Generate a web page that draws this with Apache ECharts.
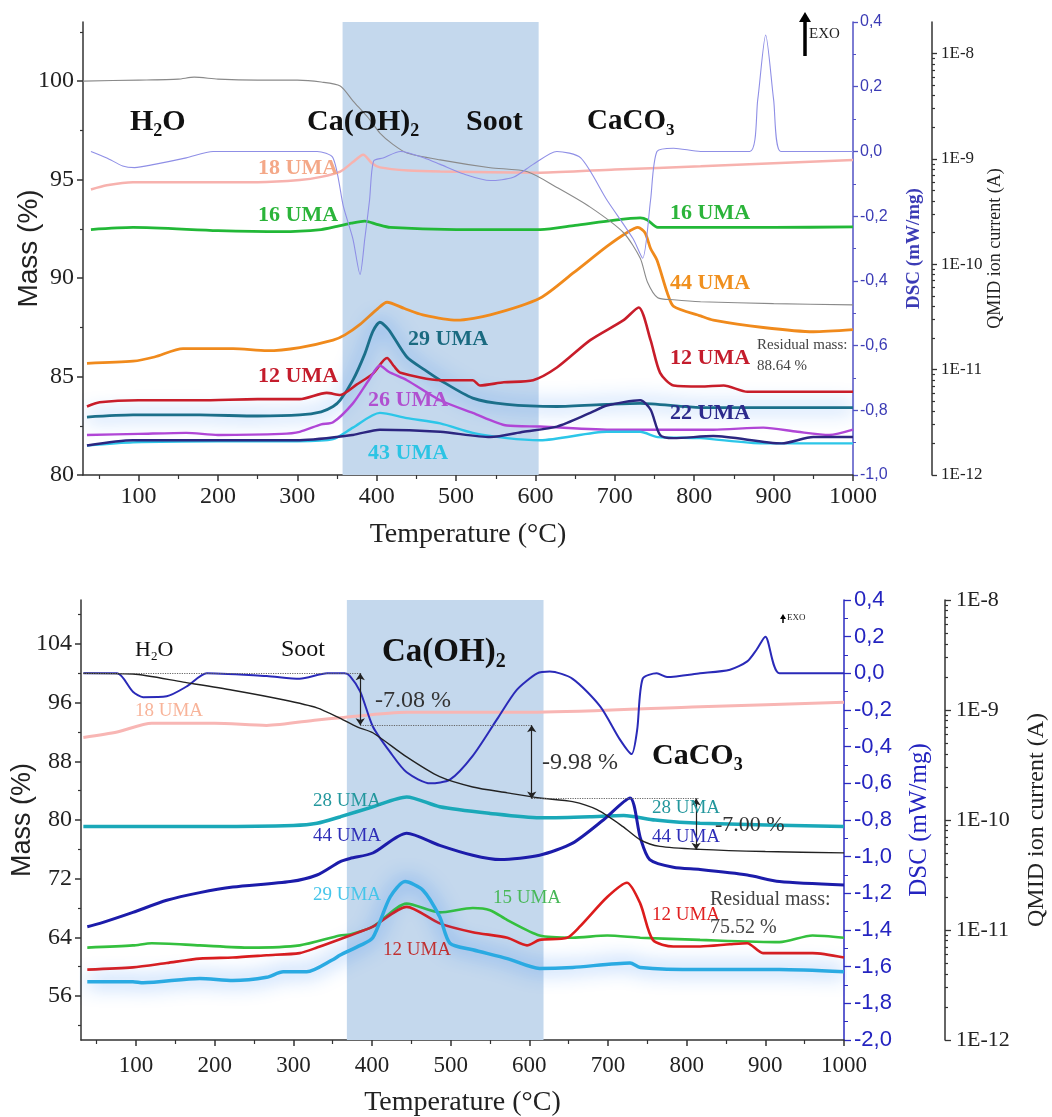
<!DOCTYPE html>
<html>
<head>
<meta charset="utf-8">
<script src="https://cdn.jsdelivr.net/npm/echarts@6/dist/echarts.min.js"></script>
<style>
html, body { margin: 0; padding: 0; background: #fff; }
#main { width: 1052px; height: 1117px; }
</style>
</head>
<body>
<div id="main"></div>
<script>
var SERIF = '"Liberation Serif", "DejaVu Serif", serif';
var SANS = '"Liberation Sans", Arial, sans-serif';

// ---- top panel (a) ----
var massTopT = [30, 100, 150, 170, 200, 250, 300, 330, 354, 370, 390, 404, 420, 438, 480, 543, 590, 627, 669, 711, 732, 741, 754, 774, 808, 900, 1000];
var massTop = [100.0, 100.05, 100.1, 100.2, 100.1, 100.05, 100.05, 99.95, 99.75, 99.0, 98.1, 97.36, 96.8, 96.35, 96.0, 95.6, 95.4, 94.6, 93.6, 92.3, 91.0, 89.8, 89.0, 88.9, 88.8, 88.7, 88.64];

var dscTopT = [40, 60, 80, 95, 120, 160, 194, 250, 300, 325, 345, 358, 370, 379, 385, 391, 396, 408, 430, 460, 480, 510, 543, 572, 597, 627, 657, 690, 723, 735, 745, 753, 774, 808, 870, 880, 890, 900, 909, 950, 1000];
var dscTop = [0.0, -0.02, -0.045, -0.05, -0.04, -0.02, 0.0, 0.0, 0.0, 0.0, -0.02, -0.17, -0.27, -0.38, -0.27, -0.15, -0.03, -0.02, 0.0, -0.02, -0.04, -0.07, -0.09, -0.08, -0.04, 0.0, -0.02, -0.15, -0.27, -0.33, -0.15, 0.0, 0.01, 0.0, 0.0, 0.16, 0.36, 0.16, 0.0, 0.0, 0.0];

// ion currents stored as log10(A)
var t18Top = [40, 60, 93, 150, 200, 250, 303, 330, 354, 370, 383, 394, 404, 440, 480, 606, 700, 808, 900, 1000];
var ion18Top = [-9.29, -9.25, -9.22, -9.22, -9.22, -9.22, -9.20, -9.17, -9.12, -9.03, -8.96, -9.04, -9.08, -9.11, -9.12, -9.13, -9.10, -9.07, -9.04, -9.01];

var t16Top = [40, 93, 200, 280, 330, 350, 368, 385, 400, 417, 500, 606, 650, 700, 732, 741, 754, 808, 900, 1000];
var ion16Top = [-9.67, -9.65, -9.68, -9.69, -9.67, -9.64, -9.61, -9.59, -9.62, -9.65, -9.67, -9.67, -9.63, -9.58, -9.56, -9.58, -9.65, -9.65, -9.65, -9.645];

var t44Top = [35, 93, 120, 156, 219, 262, 303, 345, 360, 379, 400, 413, 435, 458, 501, 543, 606, 648, 690, 715, 729, 738, 745, 753, 766, 774, 808, 824, 887, 950, 1000];
var ion44Top = [-10.94, -10.92, -10.88, -10.80, -10.80, -10.82, -10.79, -10.72, -10.67, -10.57, -10.43, -10.36, -10.42, -10.48, -10.53, -10.48, -10.32, -10.08, -9.83, -9.70, -9.65, -9.70, -9.85, -9.96, -10.27, -10.40, -10.49, -10.53, -10.60, -10.64, -10.62];

var t12Top = [35, 51, 100, 177, 250, 303, 337, 354, 375, 395, 413, 422, 430, 480, 521, 530, 560, 597, 627, 669, 711, 730, 745, 757, 774, 808, 837, 867, 930, 1000];
var ion12Top = [-11.35, -11.31, -11.29, -11.29, -11.28, -11.28, -11.22, -11.24, -11.14, -11.04, -10.89, -10.97, -11.03, -11.10, -11.10, -11.15, -11.12, -11.10, -10.98, -10.72, -10.53, -10.41, -10.72, -11.03, -11.15, -11.16, -11.15, -11.21, -11.21, -11.21];

var t29Top = [35, 93, 177, 250, 303, 330, 345, 354, 370, 385, 395, 404, 415, 438, 460, 480, 521, 564, 627, 690, 732, 808, 900, 1000];
var ion29Top = [-11.45, -11.43, -11.43, -11.44, -11.43, -11.40, -11.35, -11.29, -11.10, -10.85, -10.64, -10.55, -10.62, -10.88, -11.00, -11.10, -11.27, -11.33, -11.35, -11.33, -11.32, -11.36, -11.36, -11.36];

var t26Top = [35, 100, 160, 200, 280, 303, 330, 345, 370, 390, 404, 415, 438, 480, 521, 564, 606, 700, 774, 824, 887, 930, 970, 1000];
var ion26Top = [-11.62, -11.61, -11.60, -11.62, -11.61, -11.59, -11.52, -11.50, -11.32, -11.10, -10.96, -11.02, -11.10, -11.29, -11.41, -11.53, -11.54, -11.57, -11.57, -11.57, -11.55, -11.59, -11.62, -11.57];

var t22Top = [35, 93, 177, 303, 370, 404, 480, 543, 585, 627, 669, 690, 732, 745, 757, 774, 824, 910, 950, 1000];
var ion22Top = [-11.72, -11.67, -11.67, -11.67, -11.62, -11.57, -11.59, -11.64, -11.59, -11.54, -11.41, -11.34, -11.29, -11.38, -11.62, -11.65, -11.63, -11.70, -11.64, -11.64];

var t43Top = [35, 93, 200, 300, 345, 370, 404, 438, 480, 521, 564, 606, 690, 732, 754, 808, 887, 1000];
var ion43Top = [-11.72, -11.69, -11.68, -11.68, -11.66, -11.55, -11.41, -11.46, -11.51, -11.60, -11.65, -11.67, -11.59, -11.59, -11.64, -11.65, -11.70, -11.70];

// ---- bottom panel (b) ----
var massBotT = [33, 96, 160, 223, 287, 330, 359, 381, 401, 444, 486, 528, 572, 613, 655, 686, 719, 741, 766, 817, 900, 1000];
var massBot = [100.0, 99.9, 98.8, 97.7, 96.4, 95.3, 93.9, 92.7, 91.9, 88.6, 85.9, 84.5, 83.7, 83.0, 82.5, 81.4, 79.1, 77.3, 76.4, 76.0, 75.7, 75.52];

var dscBotT = [33, 76, 96, 109, 139, 165, 190, 266, 308, 343, 365, 372, 385, 401, 423, 444, 474, 499, 528, 559, 584, 610, 626, 655, 690, 715, 730, 737, 744, 762, 775, 817, 855, 877, 889, 900, 918, 1000];
var dscBot = [0.0, 0.0, -0.10, -0.13, -0.125, -0.07, 0.0, -0.015, -0.03, 0.0, 0.0, -0.015, -0.10, -0.29, -0.43, -0.54, -0.60, -0.58, -0.45, -0.25, -0.09, 0.0, 0.01, -0.03, -0.18, -0.36, -0.44, -0.31, -0.03, 0.0, -0.02, 0.0, 0.02, 0.065, 0.13, 0.20, 0.0, 0.0];

var t18Bot = [33, 76, 120, 200, 266, 330, 360, 444, 610, 817, 1000];
var ion18Bot = [-9.25, -9.20, -9.12, -9.12, -9.14, -9.09, -9.07, -9.02, -9.02, -8.97, -8.93];

var t28Bot = [33, 200, 300, 330, 360, 401, 444, 486, 550, 613, 677, 720, 760, 817, 1000];
var ion28Bot = [-10.06, -10.06, -10.05, -10.03, -9.97, -9.88, -9.79, -9.88, -9.94, -9.98, -9.97, -9.96, -10.0, -10.03, -10.06];

var t44Bot = [38, 54, 96, 139, 181, 223, 296, 330, 359, 372, 401, 444, 486, 528, 563, 613, 655, 694, 728, 741, 753, 783, 817, 877, 918, 1000];
var ion44Bot = [-10.97, -10.94, -10.84, -10.73, -10.66, -10.61, -10.56, -10.50, -10.38, -10.35, -10.30, -10.12, -10.23, -10.32, -10.36, -10.32, -10.21, -10.00, -9.80, -10.16, -10.36, -10.43, -10.45, -10.50, -10.56, -10.59];

var t15Bot = [38, 96, 120, 181, 245, 308, 359, 372, 401, 444, 486, 528, 550, 572, 613, 655, 699, 741, 817, 918, 960, 1000];
var ion15Bot = [-11.16, -11.14, -11.12, -11.14, -11.16, -11.14, -11.05, -11.04, -10.97, -10.76, -10.84, -10.80, -10.82, -10.91, -11.05, -11.07, -11.05, -11.07, -11.09, -11.11, -11.05, -11.07];

var t12Bot = [38, 96, 139, 181, 223, 266, 308, 330, 372, 401, 444, 486, 528, 572, 597, 613, 648, 664, 699, 724, 741, 757, 783, 817, 855, 877, 897, 960, 1000];
var ion12Bot = [-11.36, -11.34, -11.30, -11.26, -11.25, -11.23, -11.21, -11.16, -11.05, -10.97, -10.79, -10.94, -11.02, -11.07, -11.14, -11.09, -11.07, -10.97, -10.70, -10.57, -10.76, -11.09, -11.15, -11.15, -11.13, -11.12, -11.21, -11.21, -11.25];

var t29Bot = [38, 96, 109, 181, 223, 266, 287, 317, 350, 359, 385, 401, 423, 442, 465, 486, 499, 528, 572, 613, 655, 728, 741, 817, 918, 1000];
var ion29Bot = [-11.47, -11.47, -11.48, -11.44, -11.46, -11.43, -11.38, -11.38, -11.27, -11.23, -11.14, -11.07, -10.70, -10.56, -10.64, -10.88, -11.12, -11.18, -11.26, -11.35, -11.34, -11.30, -11.34, -11.36, -11.36, -11.38];

// mass loss steps (b)
var stepLevels = [100, 92.92, 82.94, 75.94];
var stepTemps = [385, 603, 812];

// ticks
var xMajor = [100, 200, 300, 400, 500, 600, 700, 800, 900, 1000];
var xMinor = [50, 150, 250, 350, 450, 550, 650, 750, 850, 950];
var massTopTicks = [80, 85, 90, 95, 100];
var massTopMinor = [82.5, 87.5, 92.5, 97.5, 102.5];
var massBotTicks = [56, 64, 72, 80, 88, 96, 104];
var massBotMinor = [52, 60, 68, 76, 84, 92, 100, 108];
var decades = [-12, -11, -10, -9, -8];

function pts(ts, vs) {
    return ts.map(function (t, i) { return [t, vs[i]]; });
}
var logMinor = [];
for (var k = -12; k < -8; k++) {
    for (var n = 2; n <= 9; n++) logMinor.push(k + Math.log10(n));
}
function comma(v) { return v.toFixed(1).replace('.', ','); }

var AX = '#333';

function xMain(g, fs, margin, gap) {
    return {
        type: 'value', gridIndex: g, position: 'bottom', min: 30, max: 1000,
        axisLine: { show: true, onZero: false, lineStyle: { color: AX, width: 1.5 } },
        axisTick: { show: true, customValues: xMajor, length: 6, lineStyle: { color: AX, width: 1.5 } },
        axisLabel: { customValues: xMajor, formatter: function (v) { return String(v); }, fontFamily: SERIF, fontSize: fs, color: '#222', margin: margin },
        splitLine: { show: false },
        name: 'Temperature (°C)', nameLocation: 'middle', nameGap: gap, nameMoveOverlap: false,
        nameTextStyle: { fontFamily: SERIF, fontSize: 28, color: '#222' }
    };
}
function xSub(g) {
    return {
        type: 'value', gridIndex: g, position: 'bottom', min: 30, max: 1000,
        axisLine: { show: false, onZero: false },
        axisTick: { show: true, customValues: xMinor, length: 4, lineStyle: { color: AX, width: 1.2 } },
        axisLabel: { show: false }, splitLine: { show: false }
    };
}
function ySub(g, pos, offset, min, max, vals, color) {
    return {
        type: 'value', gridIndex: g, position: pos, offset: offset, min: min, max: max,
        axisLine: { show: false, onZero: false },
        axisTick: { show: true, customValues: vals, length: 3, lineStyle: { color: color, width: 1.2 } },
        axisLabel: { show: false }, splitLine: { show: false }
    };
}

var xAxes = [xMain(0, 24, 10, 46), xSub(0), xMain(1, 23, 14, 49), xSub(1)];

var yAxes = [
    // 0 mass (a)
    {
        type: 'value', gridIndex: 0, position: 'left', min: 80, max: 103,
        axisLine: { show: true, onZero: false, lineStyle: { color: AX, width: 1.5 } },
        axisTick: { show: true, customValues: massTopTicks, length: 6, lineStyle: { color: AX, width: 1.5 } },
        axisLabel: { customValues: massTopTicks, fontFamily: SERIF, fontSize: 24, color: '#222', margin: 9 },
        splitLine: { show: false },
        name: 'Mass (%)', nameLocation: 'middle', nameGap: 40, nameMoveOverlap: false,
        nameTextStyle: { fontFamily: SANS, fontSize: 28, color: '#222' }
    },
    ySub(0, 'left', 0, 80, 103, massTopMinor, AX),
    // 2 DSC (a)
    {
        type: 'value', gridIndex: 0, position: 'right', min: -1, max: 0.4, interval: 0.2,
        axisLine: { show: true, onZero: false, lineStyle: { color: '#5252c4', width: 1.5 } },
        axisTick: { show: true, length: 5, lineStyle: { color: '#5252c4', width: 1.3 } },
        minorTick: { show: true, splitNumber: 2, length: 3, lineStyle: { color: '#5252c4' } },
        axisLabel: { formatter: comma, fontFamily: SANS, fontSize: 16, color: '#3b3bb5', margin: 7 },
        splitLine: { show: false },
        name: 'DSC (mW/mg)', nameLocation: 'middle', nameGap: 52, nameMoveOverlap: false,
        nameTextStyle: { fontFamily: SERIF, fontSize: 19, fontWeight: 'bold', color: '#3b3bb5' }
    },
    // 3 QMID (a)
    {
        type: 'value', gridIndex: 0, position: 'right', offset: 79, min: -12, max: -7.7,
        axisLine: { show: true, onZero: false, lineStyle: { color: AX, width: 1.5 } },
        axisTick: { show: true, customValues: decades, length: 5, lineStyle: { color: AX, width: 1.3 } },
        axisLabel: { customValues: decades, formatter: function (v) { return '1E' + v; }, fontFamily: SERIF, fontSize: 17, color: '#222', margin: 9 },
        splitLine: { show: false },
        name: 'QMID ion current (A)', nameLocation: 'middle', nameGap: 54, nameMoveOverlap: false,
        nameTextStyle: { fontFamily: SERIF, fontSize: 18, color: '#222' }
    },
    ySub(0, 'right', 79, -12, -7.7, logMinor.filter(function (v) { return v < -7.7; }), AX),
    // 5 mass (b)
    {
        type: 'value', gridIndex: 1, position: 'left', min: 50, max: 110,
        axisLine: { show: true, onZero: false, lineStyle: { color: AX, width: 1.5 } },
        axisTick: { show: true, customValues: massBotTicks, length: 6, lineStyle: { color: AX, width: 1.5 } },
        axisLabel: { customValues: massBotTicks, fontFamily: SERIF, fontSize: 24, color: '#222', margin: 9 },
        splitLine: { show: false },
        name: 'Mass (%)', nameLocation: 'middle', nameGap: 45, nameMoveOverlap: false,
        nameTextStyle: { fontFamily: SANS, fontSize: 27, color: '#222' }
    },
    ySub(1, 'left', 0, 50, 110, massBotMinor, AX),
    // 7 DSC (b)
    {
        type: 'value', gridIndex: 1, position: 'right', min: -2, max: 0.4, interval: 0.2,
        axisLine: { show: true, onZero: false, lineStyle: { color: '#2a2ac0', width: 1.5 } },
        axisTick: { show: true, length: 7, lineStyle: { color: '#2a2ac0', width: 1.3 } },
        minorTick: { show: true, splitNumber: 2, length: 4, lineStyle: { color: '#2a2ac0' } },
        axisLabel: { formatter: comma, fontFamily: SANS, fontSize: 22, color: '#2424c0', margin: 10 },
        splitLine: { show: false },
        name: 'DSC (mW/mg)', nameLocation: 'middle', nameGap: 63, nameMoveOverlap: false,
        nameTextStyle: { fontFamily: SERIF, fontSize: 25, color: '#2424c0' }
    },
    // 8 QMID (b)
    {
        type: 'value', gridIndex: 1, position: 'right', offset: 101, min: -12, max: -8,
        axisLine: { show: true, onZero: false, lineStyle: { color: AX, width: 1.5 } },
        axisTick: { show: true, customValues: decades, length: 6, lineStyle: { color: AX, width: 1.3 } },
        axisLabel: { customValues: decades, formatter: function (v) { return '1E' + v; }, fontFamily: SERIF, fontSize: 22, color: '#222', margin: 11 },
        splitLine: { show: false },
        name: 'QMID ion current (A)', nameLocation: 'middle', nameGap: 80, nameMoveOverlap: false,
        nameTextStyle: { fontFamily: SERIF, fontSize: 24, color: '#222' }
    },
    ySub(1, 'right', 101, -12, -8, logMinor, AX)
];

function line(xi, yi, ts, vs, color, width, z, glow) {
    var s = {
        type: 'line', xAxisIndex: xi, yAxisIndex: yi, data: pts(ts, vs),
        showSymbol: false, symbol: 'none', smooth: 0.25, silent: true,
        lineStyle: { color: color, width: width }, z: z || 3
    };
    if (glow) {
        s.lineStyle.shadowColor = glow;
        s.lineStyle.shadowBlur = 20;
    }
    return s;
}

var dotted = { type: 'dotted', color: '#666', width: 1.2 };
var arrowStyle = { type: 'solid', color: '#222', width: 1.2 };
var stepLines = [
    [{ coord: [33, stepLevels[0]], lineStyle: dotted }, { coord: [stepTemps[0], stepLevels[0]] }],
    [{ coord: [stepTemps[0], stepLevels[1]], lineStyle: dotted }, { coord: [stepTemps[1], stepLevels[1]] }],
    [{ coord: [stepTemps[1], stepLevels[2]], lineStyle: dotted }, { coord: [stepTemps[2] + 3, stepLevels[2]] }]
];
for (var i = 0; i < 3; i++) {
    stepLines.push([
        { coord: [stepTemps[i], stepLevels[i]], symbol: 'arrow', lineStyle: arrowStyle },
        { coord: [stepTemps[i], stepLevels[i + 1]], symbol: 'arrow' }
    ]);
}

var series = [
    // bands
    {
        type: 'line', xAxisIndex: 0, yAxisIndex: 0, data: [], z: 1, clip: false, silent: true,
        markArea: { silent: true, itemStyle: { color: '#c4d8ed' }, data: [[{ xAxis: 357, yAxis: 80 }, { xAxis: 604, yAxis: 103.55 }]] }
    },
    {
        type: 'line', xAxisIndex: 2, yAxisIndex: 5, data: [], z: 1, clip: false, silent: true,
        markArea: { silent: true, itemStyle: { color: '#c4d8ed' }, data: [[{ xAxis: 368, yAxis: 50 }, { xAxis: 618, yAxis: 110.95 }]] }
    },
    // top
    line(0, 3, t18Top, ion18Top, '#f7b2ae', 2.5),
    line(0, 3, t16Top, ion16Top, '#22b837', 2.8),
    line(0, 3, t44Top, ion44Top, '#f08a1c', 2.8),
    line(0, 3, t29Top, ion29Top, '#1b6f8a', 2.8, 3, 'rgba(30,120,240,1)'),
    line(0, 3, t12Top, ion12Top, '#c81d2a', 2.6),
    line(0, 3, t26Top, ion26Top, '#b046d6', 2.4),
    line(0, 3, t43Top, ion43Top, '#2cc6e8', 2.4),
    line(0, 3, t22Top, ion22Top, '#2c2680', 2.4),
    line(0, 0, massTopT, massTop, '#8a8a8a', 1.1, 4),
    line(0, 2, dscTopT, dscTop, '#8f8fe6', 1.1, 4),
    // bottom
    line(2, 8, t18Bot, ion18Bot, '#f8b6b4', 3),
    line(2, 8, t28Bot, ion28Bot, '#1aa8b8', 3.5),
    line(2, 8, t44Bot, ion44Bot, '#1c1caa', 3),
    line(2, 8, t15Bot, ion15Bot, '#34c03e', 2.6),
    line(2, 8, t12Bot, ion12Bot, '#dc1c1c', 2.6),
    line(2, 8, t29Bot, ion29Bot, '#2aaae2', 3.5, 3, 'rgba(30,120,240,1)'),
    line(2, 7, dscBotT, dscBot, '#2a2ab8', 2, 4),
    (function () {
        var s = line(2, 5, massBotT, massBot, '#222', 1.4, 4);
        s.markLine = {
            silent: true, symbol: ['none', 'none'], symbolSize: 7, animation: false,
            label: { show: false }, data: stepLines
        };
        return s;
    })()
];

function txt(x, cy, text, size, color, bold) {
    return {
        type: 'text', x: x, y: cy, z: 20,
        style: {
            text: text, fill: color, align: 'left', verticalAlign: 'middle',
            font: (bold ? 'bold ' : '') + size + 'px ' + SERIF
        }
    };
}
function chem(x, cy, parts, size, bold) {
    var sub = Math.round(size * 0.6);
    var w = bold ? 'bold' : 'normal';
    var s = '';
    parts.forEach(function (p) { s += p[1] ? '{b|' + p[0] + '}' : '{a|' + p[0] + '}'; });
    return {
        type: 'text', x: x, y: cy, z: 20,
        style: {
            text: s, align: 'left', verticalAlign: 'middle',
            rich: {
                a: { fontSize: size, fontWeight: w, fontFamily: SERIF, fill: '#111', lineHeight: size * 1.2 },
                b: { fontSize: sub, fontWeight: w, fontFamily: SERIF, fill: '#111', lineHeight: sub, verticalAlign: 'bottom' }
            }
        }
    };
}

var graphics = [
    // top labels
    chem(130, 122, [['H'], ['2', 1], ['O']], 30, true),
    chem(307, 122, [['Ca(OH)'], ['2', 1]], 30, true),
    txt(466, 122, 'Soot', 30, '#111', true),
    chem(587, 122, [['CaCO'], ['3', 1]], 29, true),
    txt(258, 168, '18 UMA', 22, '#f4a888', true),
    txt(258, 215, '16 UMA', 22, '#2bb43a', true),
    txt(670, 213, '16 UMA', 22, '#2bb43a', true),
    txt(670, 283, '44 UMA', 22, '#f0901e', true),
    txt(408, 339, '29 UMA', 22, '#1a6a80', true),
    txt(258, 376, '12 UMA', 22, '#c41c2c', true),
    txt(670, 358, '12 UMA', 22, '#c41c2c', true),
    txt(368, 400, '26 UMA', 22, '#b050d0', true),
    txt(670, 413, '22 UMA', 22, '#2c2a8c', true),
    txt(368, 453, '43 UMA', 22, '#2cc4e4', true),
    txt(757, 345, 'Residual mass:', 15, '#444', false),
    txt(757, 366, '88.64 %', 15, '#444', false),
    { type: 'line', z: 20, shape: { x1: 805, y1: 56, x2: 805, y2: 20 }, style: { stroke: '#000', lineWidth: 3.5 } },
    { type: 'polygon', z: 20, shape: { points: [[799, 22], [811, 22], [805, 12]] }, style: { fill: '#000' } },
    txt(809, 34, 'EXO', 15, '#222', false),
    // bottom labels
    chem(135, 650, [['H'], ['2', 1], ['O']], 22, false),
    txt(281, 650, 'Soot', 24, '#111', false),
    chem(382, 652, [['Ca(OH)'], ['2', 1]], 33, true),
    chem(652, 756, [['CaCO'], ['3', 1]], 30, true),
    txt(135, 711, '18 UMA', 19, '#f8b49a', false),
    txt(313, 801, '28 UMA', 19, '#23979d', false),
    txt(313, 836, '44 UMA', 19, '#2e2eb8', false),
    txt(313, 895, '29 UMA', 19, '#45c5ea', false),
    txt(652, 808, '28 UMA', 19, '#23979d', false),
    txt(652, 837, '44 UMA', 19, '#2e2eb8', false),
    txt(493, 898, '15 UMA', 19, '#48b858', false),
    txt(383, 950, '12 UMA', 19, '#c03030', false),
    txt(652, 915, '12 UMA', 19, '#e02020', false),
    txt(710, 900, 'Residual mass:', 20, '#444', false),
    txt(710, 928, '75.52 %', 20, '#444', false),
    txt(375, 701, '-7.08 %', 24, '#333', false),
    txt(542, 763, '-9.98 %', 24, '#333', false),
    txt(715, 825, '-7.00 %', 22, '#333', false),
    { type: 'line', z: 20, shape: { x1: 783, y1: 623, x2: 783, y2: 618 }, style: { stroke: '#000', lineWidth: 1.5 } },
    { type: 'polygon', z: 20, shape: { points: [[780, 619], [786, 619], [783, 614]] }, style: { fill: '#000' } },
    txt(787, 618, 'EXO', 9, '#222', false)
];

var chart = echarts.init(document.getElementById('main'));
chart.setOption({
    animation: false,
    backgroundColor: '#fff',
    grid: [
        { left: 83, top: 22, width: 770, height: 453, outerBoundsMode: 'none' },
        { left: 81, top: 600, width: 763, height: 440, outerBoundsMode: 'none' }
    ],
    xAxis: xAxes,
    yAxis: yAxes,
    series: series,
    graphic: graphics
});
</script>
</body>
</html>
